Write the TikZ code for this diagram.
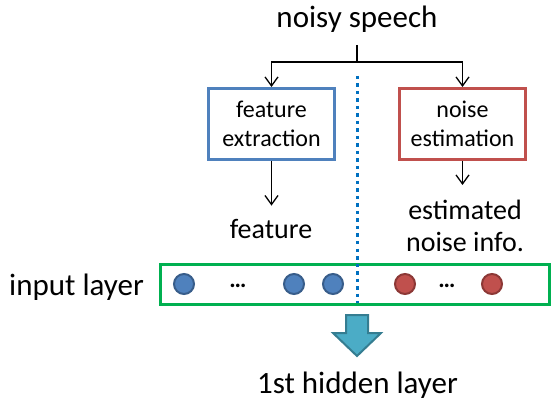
\documentclass[tikz,border=0pt]{standalone}
\usepackage{fontspec}
\setmainfont{Carlito}
\usetikzlibrary{arrows.meta,calc}
\definecolor{boxblue}{HTML}{4F81BD}
\definecolor{boxred}{HTML}{C0504D}
\definecolor{layergreen}{HTML}{00B050}
\definecolor{dotblue}{HTML}{0070C0}
\definecolor{nodeblueline}{HTML}{385D8A}
\definecolor{noderedline}{HTML}{8C3836}
\definecolor{arrowfill}{HTML}{4BACC6}
\definecolor{arrowline}{HTML}{357D91}
\tikzset{
  biglabel/.style={font=\fontsize{31}{36}\selectfont, align=center, inner sep=0pt, anchor=base},
  midlabel/.style={font=\fontsize{28}{32}\selectfont, align=center, inner sep=0pt, anchor=base},
  procbox/.style={draw, line width=3pt, minimum width=126pt, minimum height=71pt,
    inner sep=0pt, align=center, font=\fontsize{24}{29}\selectfont},
  thinarrow/.style={-{Straight Barb[length=9pt,width=13pt,line width=1.3pt]}, line width=1.3pt},
  thinline/.style={line width=1.3pt},
  unit/.style={circle, line width=2pt, minimum size=20pt, inner sep=0pt},
  blueunit/.style={unit, draw=nodeblueline, fill=boxblue},
  redunit/.style={unit, draw=noderedline, fill=boxred},
  ellipsis/.style={font=\fontsize{24}{28}\selectfont\bfseries, inner sep=0pt},
  divider/.style={draw=dotblue, line width=3pt, dash pattern=on 3.5pt off 4pt},
}
\begin{document}
\begin{tikzpicture}[x=1pt, y=-1pt]
  \useasboundingbox (0,0) rectangle (552,401);

  % input signal and the two processing branches
  \node[biglabel] (ns) at (357,28) {noisy speech};
  \coordinate (stem) at (357,45);
  \coordinate (split) at (357,62);
  \node[procbox, draw=boxblue] (fe) at (271.5,124) {feature\\extraction};
  \node[procbox, draw=boxred] (ne) at (462.5,124) {noise\\estimation};
  \draw[thinline] (stem) -- (split);
  \draw[thinarrow] (split) -| (fe.north);
  \draw[thinarrow] (split) -| (ne.north);

  % branch outputs
  \node[midlabel] (feat) at (271,238) {feature};
  \node[midlabel, anchor=north] (eni) at (465,200) {estimated\\noise info.};
  \draw[thinarrow, shorten >=13pt] (fe.south) -- (fe.south |- feat.north);
  \draw[thinarrow, shorten >=15pt] (ne.south) -- (ne.south |- eni.north);

  % input layer
  \node[biglabel, anchor=base west] (ilabel) at (9,295) {input layer};
  \node[draw=layergreen, line width=3pt, minimum width=389pt, minimum height=39.5pt,
        inner sep=0pt] (il) at (355,284.25) {};
  \node[blueunit] (b1) at (184,284) {};
  \node[ellipsis] (d1) at (238,286) {\dots};
  \node[blueunit] (b2) at (294,284) {};
  \node[blueunit] (b3) at (333,284) {};
  \node[redunit] (r1) at (405,284) {};
  \node[ellipsis] (d2) at (447,286) {\dots};
  \node[redunit] (r2) at (492,284) {};

  % divider between feature part and noise part
  \coordinate (dtop) at (357,76);
  \coordinate (dbot) at (357,303);
  \draw[divider] (dtop) -- (dbot);

  % block arrow to the hidden layer
  \coordinate (ba) at (357,315);
  \draw[draw=arrowline, fill=arrowfill, line width=2pt, line join=miter]
    ($(ba)+(-11,0)$) -- ($(ba)+(11,0)$) -- ($(ba)+(11,18)$) -- ($(ba)+(24,18)$)
    -- ($(ba)+(0,41)$) -- ($(ba)+(-24,18)$) -- ($(ba)+(-11,18)$) -- cycle;
  \node[biglabel] (hl) at (357.5,393.5) {1st hidden layer};
\end{tikzpicture}
\end{document}
